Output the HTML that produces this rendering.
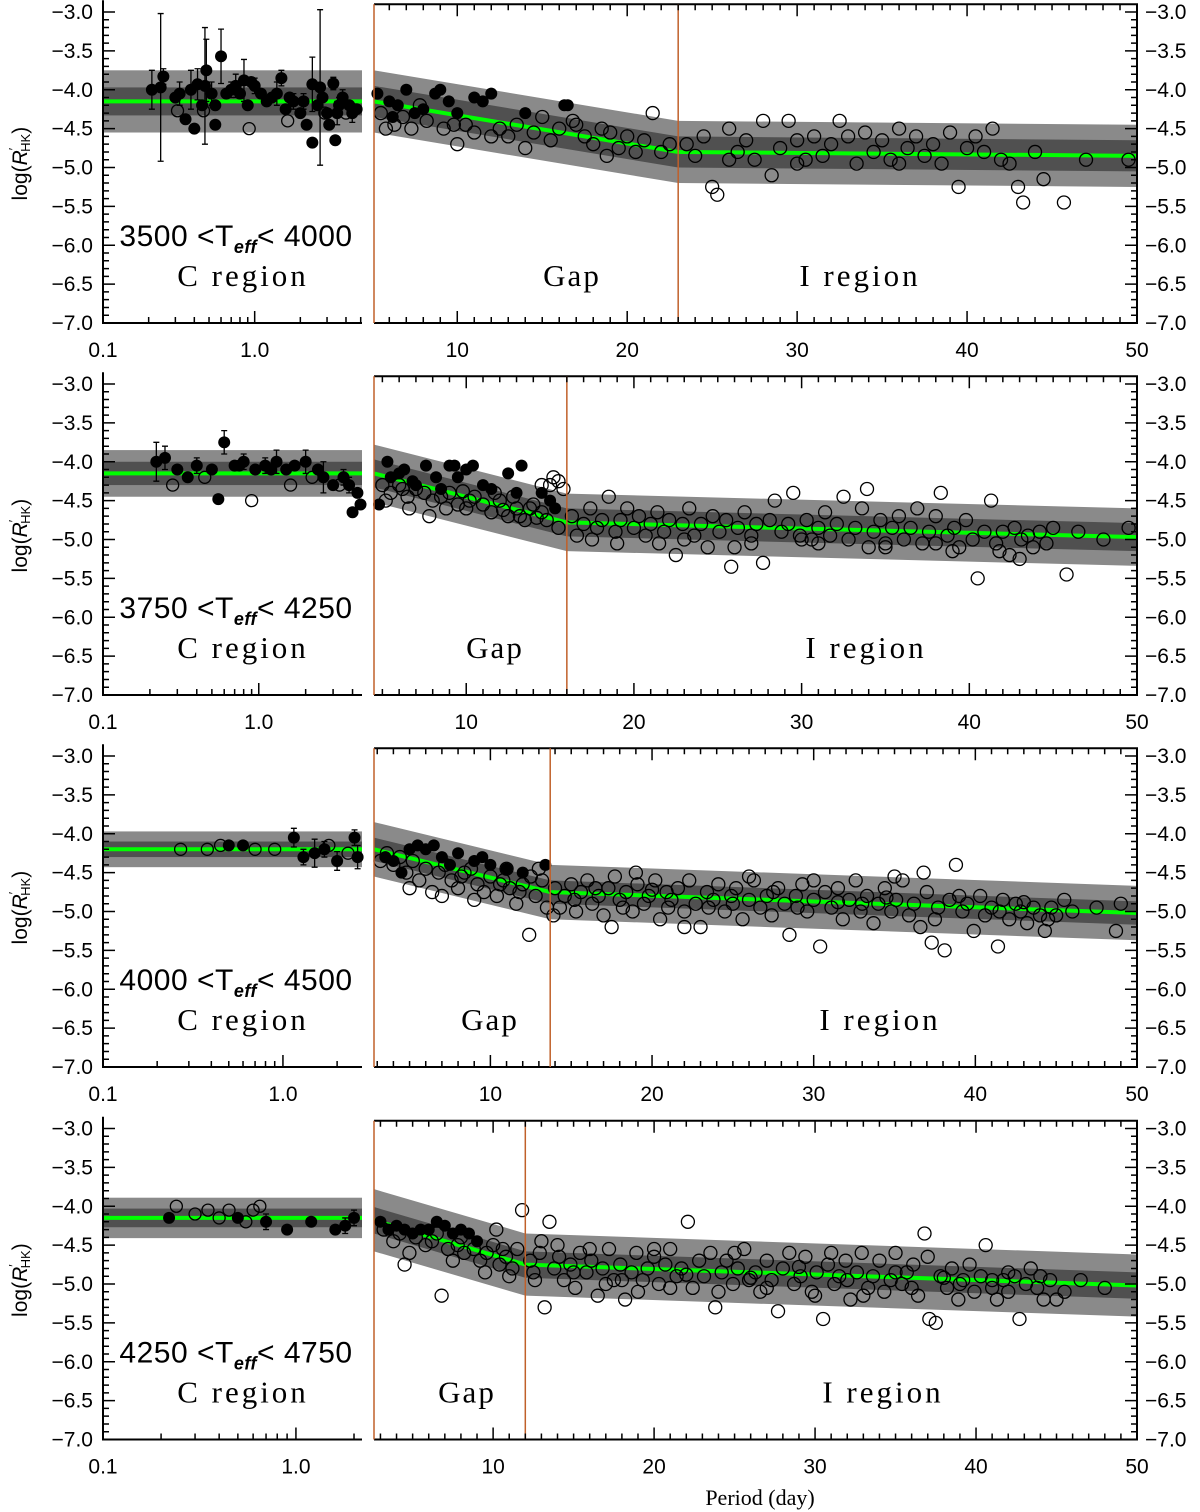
<!DOCTYPE html>
<html><head><meta charset="utf-8"><title>log R'HK vs period</title>
<style>
html,body{margin:0;padding:0;background:#fff;}
svg{display:block;font-family:"Liberation Sans",Arial,sans-serif;}
</style></head>
<body>
<svg id="chart" width="1200" height="1512" viewBox="0 0 1200 1512" xmlns="http://www.w3.org/2000/svg">
<text x="760" y="1505" font-size="22" text-anchor="middle" font-family="Liberation Serif, serif">Period (day)</text>
</svg>
<script>
// ---- data ----
const tempLow=["3500","3750","4000","4250"];
const tempHigh=["4000","4250","4500","4750"];
const leftMax=[5.1,4.6,2.75,2.2];
const rightStart=[5.1,4.5,2.8,2.6];
const kneeP=[23.0,16.0,13.7,12.0];
const leftCenter=[-4.15,-4.15,-4.2,-4.15];
const leftLight=[0.4,0.3,0.23,0.26];
const leftDark=[0.18,0.15,0.1,0.12];
const fitStart=[-4.15,-4.15,-4.2,-4.18];
const fitKnee=[-4.8,-4.78,-4.75,-4.75];
const fitEnd=[-4.85,-4.97,-5.02,-5.02];
const rightLight=[0.4,0.37,0.35,0.4];
const rightDark=[0.2,0.18,0.15,0.17];
const yTicks=[-3.0,-3.5,-4.0,-4.5,-5.0,-5.5,-6.0,-6.5,-7.0];
const rightTicks=[10,20,30,40,50];
const leftTicks=[0.1,1.0];

// left panel points: [period, value, error]
const L1f=[[0.21,-4.0,0.25],[0.24,-3.97,0.95],[0.25,-3.83,0.1],[0.3,-4.1,0],[0.32,-4.05,0.15],[0.35,-4.38,0],[0.38,-4.0,0.25],[0.4,-4.5,0],[0.42,-3.93,0.2],[0.45,-4.2,0],[0.47,-3.95,0.75],[0.48,-3.75,0.4],[0.52,-4.05,0.15],[0.55,-4.45,0],[0.6,-3.57,0.35],[0.65,-4.05,0],[0.7,-4.0,0.1],[0.75,-3.95,0.15],[0.85,-3.88,0.27],[0.95,-3.9,0],[1.0,-3.95,0.1],[1.3,-4.1,0],[1.4,-4.05,0.15],[1.5,-3.85,0.1],[1.6,-4.25,0],[1.8,-4.15,0.1],[2.0,-4.3,0],[2.2,-4.45,0],[2.4,-3.93,0.35],[2.4,-4.68,0],[2.7,-3.97,1.0],[2.8,-4.1,0],[3.1,-4.45,0],[3.3,-3.92,0.08],[3.4,-4.65,0],[3.5,-4.3,0.15],[3.8,-4.1,0.1],[4.2,-4.2,0],[4.7,-4.25,0],[1.1,-4.05,0],[0.9,-4.2,0],[2.1,-4.15,0.1],[3.0,-4.3,0],[0.55,-4.2,0],[0.8,-4.05,0],[1.2,-4.15,0],[1.7,-4.1,0],[2.6,-4.2,0],[3.6,-4.2,0.1],[4.4,-4.3,0.12]];
const L1o=[[0.31,-4.27],[0.46,-4.27],[0.92,-4.5],[1.65,-4.4],[2.9,-4.3],[4.0,-4.3]];
const L2f=[[0.22,-4.0,0.25],[0.25,-3.95,0.15],[0.3,-4.1,0],[0.35,-4.2,0],[0.4,-4.05,0.1],[0.5,-4.1,0],[0.55,-4.48,0],[0.6,-3.75,0.15],[0.7,-4.05,0],[0.8,-4.0,0.1],[0.95,-4.1,0],[1.1,-4.05,0.1],[1.3,-4.0,0.15],[1.5,-4.1,0],[1.7,-4.05,0],[2.0,-4.0,0.15],[2.4,-4.1,0],[2.6,-4.2,0.2],[3.0,-4.3,0],[3.5,-4.2,0.1],[4.0,-4.65,0],[4.3,-4.4,0],[4.5,-4.55,0],[0.75,-4.05,0],[1.2,-4.1,0],[3.8,-4.3,0.1]];
const L2o=[[0.28,-4.3],[0.45,-4.2],[0.9,-4.5],[1.6,-4.3],[2.2,-4.2],[3.3,-4.3]];
const L3f=[[0.5,-4.15,0],[0.6,-4.15,0],[1.15,-4.05,0.12],[1.3,-4.3,0.1],[1.5,-4.25,0.18],[1.7,-4.2,0.1],[2.0,-4.35,0.12],[2.5,-4.05,0.1],[2.6,-4.3,0.15]];
const L3o=[[0.27,-4.2],[0.38,-4.2],[0.45,-4.15],[0.7,-4.2],[0.9,-4.2],[1.8,-4.15],[2.3,-4.25]];
const L4f=[[0.22,-4.15,0],[0.5,-4.15,0],[0.7,-4.2,0.1],[0.9,-4.3,0],[1.2,-4.2,0],[1.6,-4.3,0],[1.8,-4.25,0.1],[2.0,-4.15,0.1]];
const L4o=[[0.24,-4.0],[0.3,-4.1],[0.35,-4.05],[0.4,-4.15],[0.45,-4.05],[0.55,-4.2],[0.6,-4.05],[0.65,-4.0]];

// right panel points: [period, value]
const R1f=[[5.3,-4.05],[6,-4.15],[6.5,-4.2],[7,-4.0],[7.5,-4.3],[8.7,-4.05],[9,-4.0],[9.5,-4.15],[11,-4.1],[11.5,-4.15],[12,-4.05],[14,-4.3],[16.3,-4.2],[16.5,-4.2],[6.2,-4.35],[8,-4.25],[10,-4.3]];
const R1o=[[5.5,-4.3],[6.3,-4.45],[6.8,-4.35],[7.3,-4.5],[8.2,-4.4],[9.2,-4.5],[10.5,-4.45],[11,-4.55],[12.5,-4.5],[13,-4.6],[13.5,-4.45],[14.5,-4.55],[15,-4.35],[15.5,-4.65],[16,-4.5],[17,-4.45],[17.5,-4.6],[18,-4.7],[18.5,-4.5],[19,-4.55],[19.5,-4.75],[20,-4.6],[21,-4.65],[21.5,-4.3],[22,-4.8],[22.5,-4.7],[14,-4.75],[16.8,-4.4],[12,-4.6],[10,-4.7],[23.5,-4.7],[24,-4.85],[24.5,-4.6],[25,-5.25],[25.3,-5.35],[26,-4.5],[26.5,-4.8],[27,-4.65],[27.5,-4.9],[28,-4.4],[28.5,-5.1],[29,-4.75],[29.5,-4.4],[30,-4.65],[30.5,-4.9],[31,-4.6],[31.5,-4.85],[32,-4.7],[32.5,-4.4],[33,-4.6],[33.5,-4.95],[34,-4.55],[34.5,-4.8],[35,-4.65],[35.5,-4.9],[36,-4.5],[36.5,-4.75],[37,-4.6],[37.5,-4.85],[38,-4.7],[38.5,-4.95],[39,-4.55],[39.5,-5.25],[40,-4.75],[40.5,-4.6],[41,-4.8],[41.5,-4.5],[42,-4.9],[43,-5.25],[43.3,-5.45],[44,-4.8],[44.5,-5.15],[45.7,-5.45],[47,-4.9],[49.5,-4.9],[26,-4.9],[30,-4.95],[36,-4.95],[42.5,-4.95],[5.8,-4.5],[7.8,-4.2],[9.8,-4.45],[18.8,-4.85],[20.5,-4.8]];
const R2f=[[5.3,-4.0],[5.5,-4.2],[6,-4.15],[6.3,-4.1],[7.6,-4.05],[8.2,-4.2],[9,-4.05],[9.3,-4.05],[9.5,-4.2],[10,-4.1],[10.4,-4.05],[11,-4.3],[12.5,-4.15],[13.3,-4.05],[13,-4.4],[14.5,-4.4],[15,-4.5],[15.3,-4.6],[4.8,-4.55],[7,-4.3],[8.5,-4.35],[11.5,-4.35],[6.8,-4.25]];
const R2o=[[5,-4.3],[5.5,-4.4],[6,-4.3],[6.5,-4.45],[6.6,-4.6],[7,-4.35],[7.5,-4.4],[8,-4.5],[8.5,-4.45],[9,-4.4],[9.5,-4.55],[10,-4.6],[10.5,-4.45],[11,-4.55],[11.5,-4.65],[12,-4.5],[12.5,-4.7],[13,-4.6],[13.5,-4.75],[14,-4.55],[14.5,-4.65],[14.8,-4.75],[15,-4.3],[15.5,-4.25],[15.8,-4.35],[15.2,-4.2],[14.5,-4.3],[13.8,-4.6],[12.8,-4.45],[7.8,-4.7],[11.7,-4.4],[15.5,-4.85],[5.2,-4.5],[6.2,-4.35],[8.8,-4.6],[10.2,-4.5],[12.2,-4.62],[13.2,-4.7],[14.2,-4.72],[9.8,-4.38],
[16.3,-4.7],[16.6,-4.95],[17,-4.8],[17.4,-4.6],[17.8,-4.85],[18.1,-4.75],[18.5,-4.45],[18.9,-4.9],[19.2,-4.75],[19.6,-4.6],[20,-4.85],[20.3,-4.7],[20.7,-4.95],[21,-4.8],[21.4,-4.65],[21.8,-4.9],[22.1,-4.75],[22.5,-5.2],[22.9,-4.8],[23.3,-4.6],[23.6,-4.95],[24,-4.8],[24.4,-5.1],[24.7,-4.7],[25.1,-4.9],[25.5,-4.75],[25.8,-5.35],[26.2,-4.85],[26.6,-4.65],[27,-4.95],[27.3,-4.8],[27.7,-5.3],[28.1,-4.75],[28.4,-4.5],[28.8,-4.9],[29.2,-4.8],[29.5,-4.4],[29.9,-4.95],[30.3,-4.75],[30.6,-5.0],[31,-4.85],[31.4,-4.65],[31.7,-4.95],[32.1,-4.8],[32.5,-4.45],[32.8,-5.0],[33.2,-4.85],[33.6,-4.6],[33.9,-4.35],[34.3,-4.9],[34.7,-4.75],[35,-5.05],[35.4,-4.85],[35.8,-4.7],[36.1,-5.0],[36.5,-4.85],[36.9,-4.6],[37.2,-5.05],[37.6,-4.9],[38,-4.7],[38.3,-4.4],[38.7,-4.95],[39.1,-4.85],[39.4,-5.1],[39.8,-4.75],[40.2,-5.0],[40.5,-5.5],[40.9,-4.9],[41.3,-4.5],[41.6,-5.05],[42,-4.9],[42.4,-5.2],[42.7,-4.85],[43.1,-5.0],[43.5,-4.95],[43.8,-5.1],[44.2,-4.9],[44.6,-5.05],[45,-4.85],[45.8,-5.45],[46.5,-4.9],[48,-5.0],[49.5,-4.85],[19,-5.05],[23,-5.0],[27,-5.05],[31,-5.05],[35,-5.1],[39,-5.15],[43,-5.25],[17.5,-5.0],[21.5,-5.05],[26,-5.1],[30,-5.0],[34,-5.1],[38,-5.05],[41.8,-5.15]];
const R3f=[[3.5,-4.3],[4,-4.35],[4.5,-4.5],[5,-4.2],[5.5,-4.15],[6,-4.2],[7,-4.3],[8,-4.25],[9,-4.35],[10,-4.4],[11,-4.45],[12,-4.5],[13.4,-4.4],[7.5,-4.4],[9.5,-4.3],[6.5,-4.15]];
const R3o=[[3.2,-4.35],[3.6,-4.25],[4,-4.4],[4.4,-4.3],[4.8,-4.5],[5.2,-4.35],[5.6,-4.6],[6,-4.45],[6.4,-4.75],[6.8,-4.5],[7.2,-4.4],[7.6,-4.6],[8,-4.7],[8.4,-4.5],[8.8,-4.45],[9.2,-4.65],[9.6,-4.75],[10,-4.55],[10.4,-4.8],[10.8,-4.6],[11.2,-4.7],[11.6,-4.9],[12,-4.65],[12.4,-5.3],[12.8,-4.8],[13.2,-4.6],[13.5,-4.95],[11,-4.45],[12.5,-4.55],[9,-4.85],[7,-4.8],[5,-4.7],[13,-4.45],[8.2,-4.55],[10.6,-4.65],[11.8,-4.75],
[14,-4.7],[14.3,-4.95],[14.6,-4.8],[15,-4.65],[15.3,-5.0],[15.6,-4.75],[16,-4.6],[16.3,-4.9],[16.7,-4.8],[17,-5.05],[17.3,-4.7],[17.7,-4.55],[18,-4.85],[18.4,-4.75],[18.8,-5.0],[19.1,-4.65],[19.5,-4.9],[19.8,-4.8],[20.2,-4.6],[20.5,-5.1],[20.9,-4.75],[21.2,-4.85],[21.6,-4.7],[22,-5.0],[22.3,-4.6],[22.7,-4.9],[23,-5.2],[23.4,-4.75],[23.8,-4.85],[24.1,-4.65],[24.5,-5.0],[24.9,-4.8],[25.2,-4.7],[25.6,-5.1],[26,-4.85],[26.3,-4.6],[26.7,-4.95],[27.1,-4.8],[27.4,-5.05],[27.8,-4.7],[28.2,-4.9],[28.5,-5.3],[28.9,-4.8],[29.3,-4.65],[29.6,-5.0],[30,-4.85],[30.4,-5.45],[30.7,-4.75],[31.1,-4.95],[31.5,-4.7],[31.8,-5.1],[32.2,-4.85],[32.6,-4.6],[32.9,-5.0],[33.3,-4.8],[33.7,-5.15],[34,-4.9],[34.4,-4.7],[34.8,-5.0],[35.1,-4.85],[35.5,-4.6],[35.9,-5.05],[36.2,-4.9],[36.6,-5.2],[37,-4.75],[37.3,-5.4],[37.7,-4.95],[38.1,-5.5],[38.4,-4.85],[38.8,-4.4],[39.2,-5.0],[39.5,-4.9],[39.9,-5.25],[40.3,-4.8],[40.6,-5.05],[41,-4.95],[41.4,-5.45],[41.7,-4.85],[42.1,-5.1],[42.5,-4.9],[42.8,-5.0],[43.2,-5.15],[43.6,-4.95],[44,-5.05],[44.3,-5.25],[44.7,-4.95],[45,-5.05],[45.5,-4.85],[46,-5.0],[48.7,-5.25],[49,-4.9],[19,-4.5],[26,-4.55],[30,-4.6],[35,-4.55],[36.8,-4.5],[17.5,-5.2],[22,-5.2],[13.9,-5.05],[15.2,-4.85],[18.2,-4.95],[21,-4.95],[25,-4.9],[29,-4.95],[33,-4.9],[37.5,-5.1],[41.5,-5.0],[44.5,-5.1],[16.5,-4.7],[20,-4.72],[23.5,-4.95],[27.5,-4.75],[31.5,-4.88],[34.5,-4.82],[39,-4.8],[43,-4.88],[47.5,-4.95]];
const R4f=[[3,-4.2],[3.5,-4.3],[4,-4.25],[4.5,-4.3],[5,-4.35],[5.5,-4.3],[6,-4.3],[6.5,-4.2],[7,-4.25],[7.5,-4.35],[8,-4.3],[8.5,-4.35],[9,-4.45]];
const R4o=[[3.2,-4.3],[3.8,-4.45],[4.2,-4.35],[4.8,-4.6],[5.2,-4.4],[5.8,-4.5],[6.2,-4.45],[6.8,-5.15],[7.2,-4.55],[7.8,-4.5],[8.2,-4.6],[8.8,-4.55],[9.2,-4.7],[9.6,-4.6],[10,-4.5],[10.4,-4.75],[10.8,-4.65],[11.2,-4.8],[11.5,-4.55],[11.8,-4.05],[4.5,-4.75],[9.5,-4.85],[11,-4.9],[8,-4.4],[10.2,-4.3],[6.5,-4.35],[7.5,-4.7],[10.6,-4.55],
[12.3,-4.7],[12.6,-4.95],[12.9,-4.6],[13.2,-5.3],[13.5,-4.2],[13.8,-4.8],[14.1,-4.65],[14.4,-4.95],[14.8,-4.75],[15.1,-5.05],[15.4,-4.6],[15.8,-4.85],[16.1,-4.7],[16.5,-5.15],[16.8,-4.8],[17.2,-4.55],[17.5,-4.95],[17.9,-4.75],[18.2,-5.2],[18.6,-4.85],[18.9,-4.6],[19.3,-4.95],[19.6,-4.8],[20,-4.65],[20.3,-5.0],[20.7,-4.75],[21,-4.55],[21.4,-4.9],[21.7,-4.8],[22.1,-4.2],[22.4,-5.05],[22.8,-4.7],[23.1,-4.9],[23.5,-4.6],[23.8,-5.3],[24.2,-4.85],[24.5,-4.7],[24.9,-5.0],[25.2,-4.8],[25.6,-4.55],[25.9,-4.95],[26.3,-4.85],[26.6,-5.1],[27,-4.7],[27.3,-4.95],[27.7,-5.35],[28,-4.8],[28.4,-4.6],[28.7,-5.0],[29.1,-4.9],[29.4,-4.65],[29.8,-5.1],[30.1,-4.85],[30.5,-5.45],[30.8,-4.75],[31.2,-5.0],[31.5,-4.9],[31.9,-4.7],[32.2,-5.2],[32.6,-4.85],[32.9,-4.6],[33.3,-5.05],[33.6,-4.9],[34,-4.7],[34.3,-5.1],[34.7,-4.95],[35,-4.6],[35.4,-5.0],[35.7,-4.85],[36.1,-4.75],[36.4,-5.15],[36.8,-4.35],[37.1,-5.45],[37.5,-5.5],[37.8,-4.9],[38.2,-5.05],[38.5,-4.8],[38.9,-5.2],[39.2,-4.95],[39.6,-4.75],[39.9,-5.1],[40.3,-4.9],[40.6,-4.5],[41,-5.05],[41.3,-5.2],[41.7,-4.95],[42,-5.1],[42.4,-4.9],[42.7,-5.45],[43.1,-5.0],[43.4,-4.8],[43.8,-5.05],[44.2,-5.2],[44.6,-4.95],[45.5,-5.1],[46.5,-4.95],[48,-5.05],[14,-4.5],[17,-5.0],[19,-5.1],[21,-5.05],[24,-5.1],[27,-5.05],[30,-5.15],[33,-5.15],[36,-5.05],[39,-5.0],[42,-4.85],[45,-5.2],[15,-4.85],[18,-4.95],[22,-4.88],[26,-4.92],[29,-4.78],[32,-4.95],[35,-4.85],[38,-4.92],[41,-4.95],[44,-4.9],[16,-4.55],[20,-4.55],[25,-4.6],[31,-4.6],[37,-4.65],[13,-4.45],[12.5,-4.85]];

const leftF=[L1f,L2f,L3f,L4f], leftO=[L1o,L2o,L3o,L4o];
const rightF=[R1f,R2f,R3f,R4f], rightO=[R1o,R2o,R3o,R4o];

// ---- drawing ----
const svg=document.getElementById('chart');
const NS='http://www.w3.org/2000/svg';
function mk(tag,attrs,parent){const e=document.createElementNS(NS,tag);for(const k in attrs)e.setAttribute(k,attrs[k]);(parent||svg).appendChild(e);return e;}
function span(parent,text,attrs){const s=mk('tspan',attrs||{},parent);s.textContent=text;return s;}
const rowBase=[12,384,756,1128.5];
const UNIT=77.75;
const LX0=103,LX1=362,RX0=374,RX1=1137;
const gapLabelX=[572,495,490,467];
const iLabelX=[860,866,880,883];

for(let r=0;r<4;r++){
  const g=mk('g',{});
  
  
  const yv=v=>rowBase[r]+(-3-v)*UNIT;
  const k=(LX1-LX0)/(Math.log10(leftMax[r])+1);
  const xl=p=>LX0+(Math.log10(p)+1)*k;
  const rs=rightStart[r];
  const xr=p=>RX1-(50-p)*(RX1-RX0)/(50-rs);
  const top=yv(-2.9), bot=yv(-7.0);

  const lb=mk('rect',{x:LX0,y:yv(leftCenter[r]+leftLight[r]),width:LX1-LX0,height:2*leftLight[r]*UNIT,fill:'#8a8a8a'},g);
  
  
  const ld=mk('rect',{x:LX0,y:yv(leftCenter[r]+leftDark[r]),width:LX1-LX0,height:2*leftDark[r]*UNIT,fill:'#505050'},g);
  
  
  const lfit=mk('line',{x1:LX0,x2:LX1,y1:yv(leftCenter[r]),y2:yv(leftCenter[r]),stroke:'#00ff00','stroke-width':4},g);
  
  

  const ps=[rs,kneeP[r],50], cs=[fitStart[r],fitKnee[r],fitEnd[r]];
  const band=(hw,fill,name)=>{
    let pts=ps.map((p,i)=>xr(p)+','+yv(cs[i]+hw));
    for(let i=2;i>=0;i--)pts.push(xr(ps[i])+','+yv(cs[i]-hw));
    const e=mk('polygon',{points:pts.join(' '),fill:fill},g);
    
    
  };
  band(rightLight[r],'#8a8a8a','right-band-outer');
  band(rightDark[r],'#505050','right-band-inner');
  const rfit=mk('polyline',{points:ps.map((p,i)=>xr(p)+','+yv(cs[i])).join(' '),fill:'none',stroke:'#00ff00','stroke-width':4},g);
  
  

  leftF[r].forEach(d=>{
    const x=xl(d[0]),y=yv(d[1]);
    if(d[2]>0){
      const eb=mk('path',{d:`M${x},${yv(d[1]+d[2])}V${yv(d[1]-d[2])}M${x-3},${yv(d[1]+d[2])}h6M${x-3},${yv(d[1]-d[2])}h6`,stroke:'#000','stroke-width':1.3,fill:'none'},g);
      
      
    }
    const c=mk('circle',{cx:x,cy:y,r:6,fill:'#000'},g);
    
    
  });
  leftO[r].forEach(d=>{
    const c=mk('circle',{cx:xl(d[0]),cy:yv(d[1]),r:6,fill:'none',stroke:'#000','stroke-width':1.3},g);
    
    
  });
  rightO[r].forEach(d=>{
    const c=mk('circle',{cx:xr(d[0]),cy:yv(d[1]),r:6.5,fill:'none',stroke:'#000','stroke-width':1.3},g);
    
    
  });
  rightF[r].forEach(d=>{
    const c=mk('circle',{cx:xr(d[0]),cy:yv(d[1]),r:6,fill:'#000'},g);
    
    
  });

  const la=mk('path',{d:`M${LX0},${top-4}V${bot}H${LX1}`,stroke:'#000','stroke-width':2,fill:'none'},g);
  
  
  const rf=mk('path',{d:`M${RX0},${top}H${RX1}V${bot}H${RX0}`,stroke:'#000','stroke-width':2,fill:'none'},g);
  
  
  [RX0,xr(kneeP[r])].forEach(x=>{
    const o=mk('line',{x1:x,x2:x,y1:top,y2:bot,stroke:'#c0602a','stroke-width':1.5},g);
    
    
  });

  let tp='';
  for(let i=0;i<=40;i++){
    const v=-3-i*0.1;
    const len=(i%5===0)?12:6;
    const y=yv(v);
    tp+=`M${LX0},${y}h${len}M${RX1},${y}h${-len}`;
  }
  for(let p=Math.ceil(rs);p<=50;p++){
    const len=(p%10===0)?12:6;
    const x=xr(p);
    tp+=`M${x},${bot}v${-len}M${x},${top}v${len}`;
  }
  for(let dec=0.1;dec<10;dec*=10){
    for(let m=1;m<10;m++){
      const p=dec*m; if(p>leftMax[r])break;
      const len=m===1?12:6;
      tp+=`M${xl(p)},${bot}v${-len}`;
    }
  }
  const ticks=mk('path',{d:tp,stroke:'#000','stroke-width':1.5,fill:'none'},g);
  
  

  yTicks.forEach(v=>{
    const t1=mk('text',{x:LX0-10,y:yv(v)+7,'font-size':21,'text-anchor':'end'},g);
    t1.textContent='\u2212'+Math.abs(v).toFixed(1);
    
    
    const t2=mk('text',{x:RX1+8,y:yv(v)+7,'font-size':21,'text-anchor':'start'},g);
    t2.textContent='\u2212'+Math.abs(v).toFixed(1);
    
    
  });
  rightTicks.forEach(p=>{
    const t=mk('text',{x:xr(p),y:bot+34,'font-size':21,'text-anchor':'middle'},g);
    t.textContent=String(p);
    
    
  });
  leftTicks.forEach(p=>{
    const t=mk('text',{x:xl(p),y:bot+34,'font-size':21,'text-anchor':'middle'},g);
    t.textContent=p.toFixed(1);
    
    
  });

  const yc=(top+bot)/2;
  const yt=mk('text',{x:0,y:0,'font-size':21,'text-anchor':'middle',transform:`translate(27,${yc}) rotate(-90)`},g);
  
  
  span(yt,'log(');
  span(yt,'R',{'font-style':'italic'});
  span(yt,'\u2032',{'font-size':13,dy:-9});
  span(yt,'HK',{'font-size':13,dy:12,dx:-4});
  span(yt,')',{dy:-3});

  const tt=mk('text',{x:236,y:rowBase[r]+234,'font-size':30,'text-anchor':'middle','letter-spacing':'0.5'},g);
  
  
  span(tt,tempLow[r]+' <T');
  span(tt,'eff',{'font-size':18,dy:7,'font-weight':'bold','font-style':'italic'});
  span(tt,'< '+tempHigh[r],{dy:-7});

  const cr=mk('text',{x:243,y:rowBase[r]+274,'font-size':31,'text-anchor':'middle','letter-spacing':'3','font-family':'Liberation Serif, serif'},g);
  cr.textContent='C  region';
  
  
  const gp=mk('text',{x:gapLabelX[r],y:rowBase[r]+274,'font-size':31,'text-anchor':'middle','letter-spacing':'2','font-family':'Liberation Serif, serif'},g);
  gp.textContent='Gap';
  
  
  const ir=mk('text',{x:iLabelX[r],y:rowBase[r]+274,'font-size':31,'text-anchor':'middle','letter-spacing':'3','font-family':'Liberation Serif, serif'},g);
  ir.textContent='I  region';
  
  
}
</script>
</body></html>
